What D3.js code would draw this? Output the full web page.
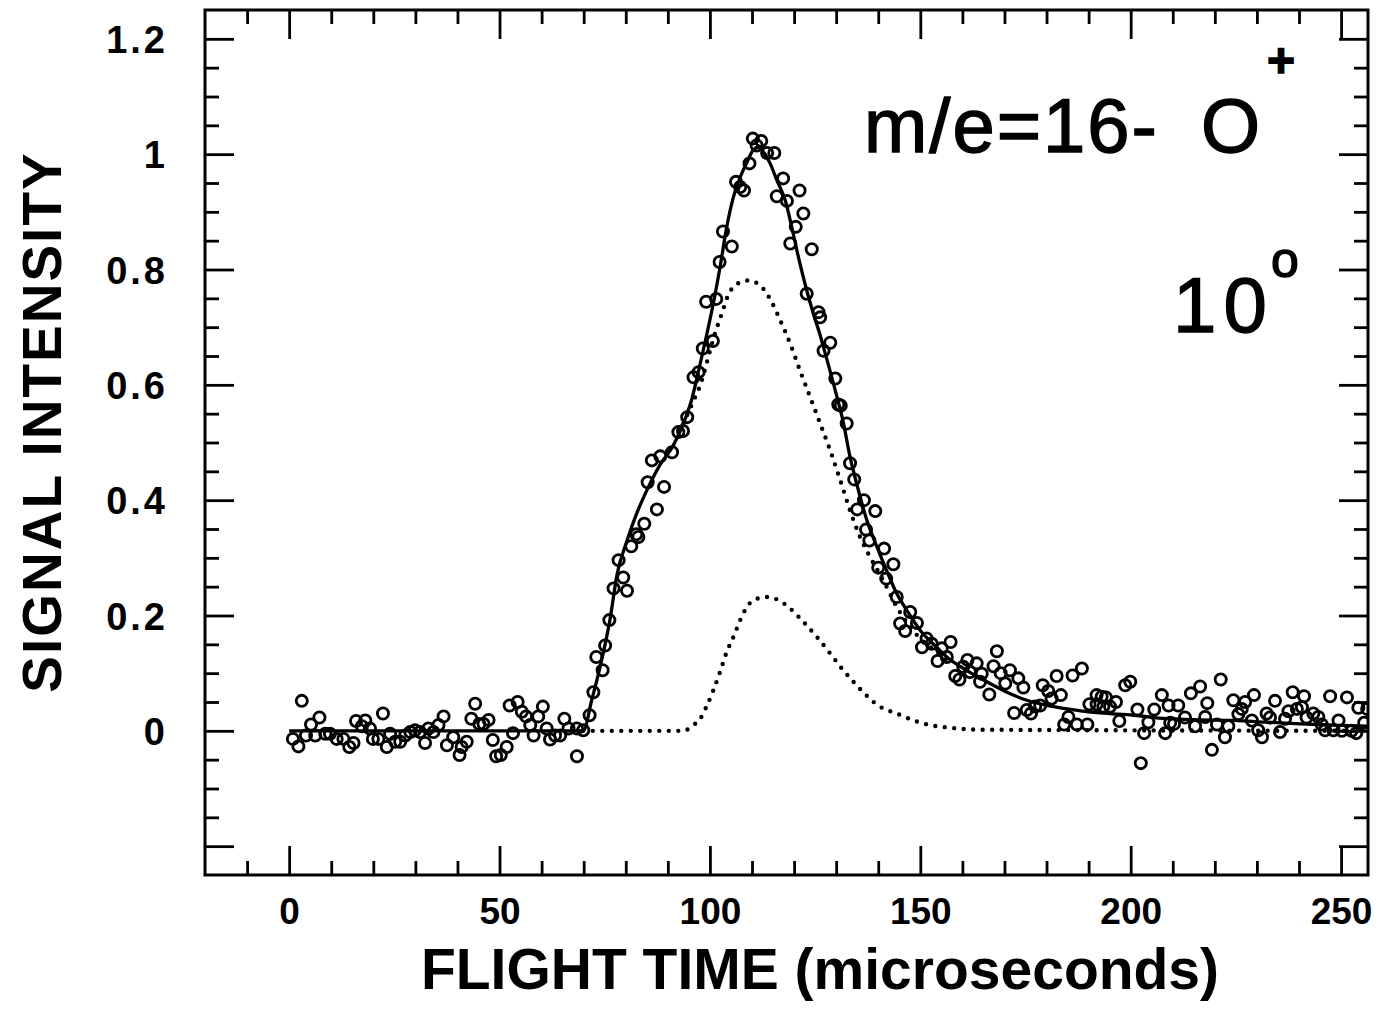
<!DOCTYPE html>
<html>
<head>
<meta charset="utf-8">
<script src="https://cdn.jsdelivr.net/npm/d3@7"></script>
<style>
  html, body { margin: 0; padding: 0; background: #fff; }
  text { font-family: "Liberation Sans", Arial, Helvetica, sans-serif; fill: #000; }
</style>
</head>
<body>
<svg id="chart" width="1400" height="1021"></svg>
<script>
// Measured signal (open circles): flight time in microseconds, normalised intensity
const pointTime = [
  0.9, 2.2, 3.0, 4.0, 5.2, 6.2, 7.2, 8.6, 9.7, 11.3, 12.9, 14.3, 15.3, 15.9, 17.3, 18.1, 19.2, 19.9,
  21.2, 22.3, 23.2, 24.0, 25.2, 26.4, 27.6, 28.8, 29.9, 31.1, 32.3, 33.1, 34.3, 35.5, 36.7, 37.5,
  39.0, 40.5, 41.0, 42.2, 43.3, 44.2, 45.2, 46.2, 47.4, 48.4, 49.2, 50.3, 51.7, 52.4, 53.2, 54.3,
  55.3, 56.3, 57.3, 58.1, 59.2, 60.3, 61.2, 62.0, 63.2, 64.4, 65.4, 66.4, 68.4, 68.4, 69.9, 71.4,
  72.3, 73.0, 74.5, 75.1,
  76.1, 77.1, 78.3, 79.4, 80.3, 81.3, 82.5, 83.0, 84.4, 85.2, 86.2, 87.4, 88.2, 89.1, 91.0, 92.5,
  93.6, 94.6,
  96.1, 97.3, 98.3, 100.7, 99.1, 101.5, 102.3, 103.1, 105.2, 106.2, 107.2, 108.1, 109.4, 110.2,
  111.1, 112.2, 113.6, 115.3, 115.9, 117.4, 118.3, 119.1, 120.4, 121.3, 122.2,
  123.0, 124.2, 125.8, 126.2, 127.0, 128.6, 129.8, 130.5, 131.1, 132.5, 133.3, 134.3, 135.0, 136.6,
  137.1, 137.9, 139.3, 140.0, 141.4, 141.9,
  143.6, 144.4, 145.2, 146.4, 147.6, 149.2, 150.4, 151.5, 152.7, 154.1, 155.1, 156.3, 157.2, 158.3,
  159.3, 160.2, 161.2, 161.8, 163.4, 164.2, 164.6, 166.4, 167.4, 168.2,
  169.1, 170.2, 171.3, 172.3, 173.3, 174.5, 175.3, 176.3, 177.3, 178.5, 179.1, 180.4, 181.2, 182.4,
  183.4, 184.2, 185.2, 186.2, 187.2, 188.4, 189.7, 190.2, 191.9, 191.9, 193.1, 193.5, 194.1, 195.1,
  196.5, 197.3, 198.7, 199.9, 201.6, 202.4, 203.2, 204.2, 205.6, 207.4, 208.2, 209.0, 209.4, 210.3,
  211.3, 212.9, 214.3, 215.3, 216.5, 217.7, 218.2, 219.3, 220.5, 221.4, 222.4, 223.2, 224.4, 225.6,
  226.4, 227.2, 228.8, 229.3, 230.3, 231.2, 232.3, 233.1, 234.3, 235.5, 236.7, 237.5, 238.5, 239.5,
  240.7, 241.2, 241.8, 243.4, 244.6, 245.4, 246.2, 247.4, 248.2, 249.4, 250.2, 251.4, 252.5, 253.6,
  254.1, 255.5, 256.2
];
const pointSignal = [
  -0.014, -0.027, 0.052, -0.008, 0.011, -0.008, 0.023, -0.005, -0.005, -0.014, -0.014, -0.028, -0.021, 0.017, 0.008, 0.018, 0.004, -0.014,
  -0.014, 0.030, -0.028, -0.005, -0.019, -0.019, -0.008, -0.002, 0.001, -0.002, -0.021, 0.004, -0.002, 0.010, 0.025, -0.025,
  -0.011, -0.042, -0.028, -0.019, 0.021, 0.047, 0.012, 0.012, 0.019, -0.016, -0.044, -0.042, -0.028, 0.044, -0.004, 0.050,
  0.033, 0.025, 0.010, -0.008, 0.025, 0.042, 0.004, -0.015, -0.008, -0.008, 0.021, 0.004, -0.044, 0.004, 0.001, 0.027,
  0.067, 0.128, 0.105, 0.148,
  0.192, 0.247, 0.296, 0.266, 0.243, 0.320, 0.341, 0.336, 0.359, 0.431, 0.469, 0.384, 0.476, 0.423, 0.483, 0.518,
  0.520, 0.544,
  0.613, 0.622, 0.663, 0.676, 0.744, 0.749, 0.813, 0.866, 0.840, 0.952, 0.943, 0.937, 0.984, 1.027,
  1.015, 1.023, 1.002, 1.002, 0.927, 0.958, 0.919, 0.845, 0.874, 0.937, 0.897,
  0.758, 0.835, 0.726, 0.717, 0.659, 0.673, 0.611, 0.566, 0.564, 0.533, 0.464, 0.436, 0.384, 0.400,
  0.349, 0.330, 0.381, 0.283, 0.316, 0.264,
  0.289, 0.232, 0.186, 0.173, 0.206, 0.187, 0.145, 0.160, 0.151, 0.121, 0.143, 0.128, 0.154, 0.095,
  0.089, 0.111, 0.123, 0.102, 0.117, 0.085, 0.099, 0.063, 0.112, 0.138,
  0.100, 0.082, 0.105, 0.031, 0.091, 0.075, 0.036, 0.030, 0.042, 0.044, 0.079, 0.069, 0.056, 0.095,
  0.062, 0.011, 0.024, 0.096, 0.011, 0.108, 0.011, 0.046, 0.062, 0.046, 0.059, 0.042, 0.058, 0.042,
  0.050, 0.017, 0.079, 0.085, 0.037, -0.056, -0.004, 0.015, 0.037, 0.062, -0.004, 0.044, 0.014, 0.012,
  0.044, 0.023, 0.065, 0.008, 0.077, 0.024, 0.048, -0.033, 0.011, 0.089, -0.011, 0.008, 0.053, 0.029,
  0.038, 0.050, 0.018, 0.062, 0.001, -0.011, 0.030, 0.023, 0.052, -0.002, 0.021, 0.034, 0.067, 0.038,
  0.041, 0.060, 0.023, 0.030, 0.024, 0.011, 0.001, 0.060, 0.001, 0.018, 0.000, 0.058, 0.000, -0.004,
  0.040, 0.014, 0.038
];

// Total fitted distribution (solid line)
const fitTime = [
  0, 69.9, 71.9, 73.9, 76.3, 77.9, 80.3, 82.6, 85.0, 88.2, 91.3, 93.7, 95.7, 97.7, 99.3, 100.8,
  102.4, 104.0, 105.6, 107.2, 108.8, 110.3, 111.5, 112.7, 114.3, 115.9, 117.9, 119.8, 121.4, 123.0,
  124.6, 126.2, 127.0, 129.8, 131.7, 133.3, 134.9, 137.3, 139.7, 142.0, 144.4, 146.8, 150.0, 153.9,
  156.3, 161.0, 165.8, 170.6, 175.3, 180.1, 184.8, 192.7, 200.6, 208.6, 216.5, 224.4, 232.3, 240.3,
  248.2, 256.4
];
const fitSignal = [
  0, 0, 0.053, 0.111, 0.195, 0.270, 0.330, 0.377, 0.417, 0.462, 0.495, 0.533, 0.575, 0.637, 0.689, 0.741,
  0.804, 0.874, 0.926, 0.960, 0.986, 1.007, 1.012, 1.004, 0.984, 0.955, 0.920, 0.862, 0.810, 0.764,
  0.723, 0.686, 0.665, 0.590, 0.535, 0.475, 0.428, 0.365, 0.319, 0.278, 0.238, 0.209, 0.174, 0.145,
  0.128, 0.105, 0.085, 0.067, 0.053, 0.044, 0.038, 0.031, 0.027, 0.021, 0.019, 0.018, 0.015, 0.012,
  0.010, 0.008
];

// Fast component of the fit (upper dotted curve, visible part)
const fastTime = [
  93.7, 95.7, 98.1, 99.6, 101.2, 102.8, 104.3, 106.7, 109.1, 111.5, 114.3, 116.7, 119.1, 121.4,
  123.8, 126.2, 128.6, 131.0, 133.3, 135.7, 138.1, 141.2, 144.4, 147.6, 150.0, 153.9, 156.3
];
const fastSignal = [
  0.533, 0.566, 0.608, 0.648, 0.689, 0.723, 0.755, 0.776, 0.781, 0.775, 0.749, 0.712, 0.671, 0.625,
  0.579, 0.533, 0.486, 0.434, 0.382, 0.336, 0.301, 0.261, 0.215, 0.180, 0.160, 0.137, 0.122
];

// Slow component of the fit (lower dotted curve)
const slowTime = [
  69.9, 93.6, 96.1, 97.7, 99.3, 100.8, 102.4, 104.0, 105.6, 107.2, 108.8, 111.1, 113.5, 115.9,
  119.1, 122.2, 125.4, 128.6, 131.7, 134.5, 140.4, 144.4, 148.4, 152.3, 156.3, 164.2, 256.4
];
const slowSignal = [
  0, 0, 0.010, 0.021, 0.044, 0.070, 0.102, 0.137, 0.163, 0.192, 0.215, 0.229, 0.232, 0.228,
  0.212, 0.189, 0.163, 0.134, 0.105, 0.082, 0.042, 0.030, 0.018, 0.010, 0.006, 0.002, 0
];

// Axis ticks
const xMajorTicks = [0, 50, 100, 150, 200, 250];
const xMinorTicks = [-10, 10, 20, 30, 40, 60, 70, 80, 90, 110, 120, 130, 140, 160, 170, 180, 190, 210, 220, 230, 240];
const yMajorTicks = [-0.2, 0, 0.2, 0.4, 0.6, 0.8, 1.0, 1.2];
const yTickLabels = ["", "0", "0.2", "0.4", "0.6", "0.8", "1", "1.2"];
const yMinorTicks = [-0.15, -0.1, -0.05, 0.05, 0.1, 0.15, 0.25, 0.3, 0.35, 0.45, 0.5, 0.55,
                     0.65, 0.7, 0.75, 0.85, 0.9, 0.95, 1.05, 1.1, 1.15];

const frame = { left: 205, right: 1368, top: 10, bottom: 875 };
const svg = d3.select("#chart");

const x = d3.scaleLinear().domain([-20, 256.4]).range([frame.left, frame.right]);
const y = d3.scaleLinear().domain([-0.25, 1.25]).range([frame.bottom, frame.top]);

svg.append("rect").attr("width", 1400).attr("height", 1021).attr("fill", "#fff");

svg.append("defs").append("clipPath").attr("id", "plot-area")
  .append("rect")
  .attr("x", frame.left).attr("y", frame.top)
  .attr("width", frame.right - frame.left).attr("height", frame.bottom - frame.top);

// Inward-pointing ticks on all four sides
const MAJOR = 29, MINOR = 14;
function tickAxis(gen, values, size, transform) {
  const g = svg.append("g").attr("transform", transform)
    .call(gen.tickValues(values).tickSizeInner(-size).tickSizeOuter(0).tickFormat(""));
  g.select(".domain").remove();
  g.selectAll(".tick line").attr("stroke", "#000").attr("stroke-width", 2.8);
  g.selectAll(".tick text").remove();
  return g;
}
tickAxis(d3.axisBottom(x), xMajorTicks, MAJOR, `translate(0,${frame.bottom})`);
tickAxis(d3.axisBottom(x), xMinorTicks, MINOR, `translate(0,${frame.bottom})`);
tickAxis(d3.axisTop(x), xMajorTicks, MAJOR, `translate(0,${frame.top})`);
tickAxis(d3.axisTop(x), xMinorTicks, MINOR, `translate(0,${frame.top})`);
tickAxis(d3.axisLeft(y), yMajorTicks, MAJOR, `translate(${frame.left},0)`);
tickAxis(d3.axisLeft(y), yMinorTicks, MINOR, `translate(${frame.left},0)`);
tickAxis(d3.axisRight(y), yMajorTicks, MAJOR, `translate(${frame.right},0)`);
tickAxis(d3.axisRight(y), yMinorTicks, MINOR, `translate(${frame.right},0)`);

// Tick labels
const xLabels = svg.append("g")
  .attr("transform", `translate(0,${frame.bottom})`)
  .call(d3.axisBottom(x).tickValues(xMajorTicks).tickSize(0).tickPadding(23).tickFormat(d3.format("d")));
xLabels.select(".domain").remove();
xLabels.selectAll("text")
  .attr("font-family", null)
  .style("font-size", "37px").style("font-weight", "bold");

const yLabels = svg.append("g")
  .attr("transform", `translate(${frame.left},0)`)
  .call(d3.axisLeft(y).tickValues(yMajorTicks).tickSize(0).tickPadding(37)
    .tickFormat((d, i) => yTickLabels[i]));
yLabels.select(".domain").remove();
yLabels.selectAll("text")
  .attr("font-family", null)
  .attr("dy", "0.36em")
  .style("font-size", "38px").style("font-weight", "bold").style("letter-spacing", "3px");

// Frame
svg.append("rect")
  .attr("x", frame.left).attr("y", frame.top)
  .attr("width", frame.right - frame.left).attr("height", frame.bottom - frame.top)
  .attr("fill", "none").attr("stroke", "#000").attr("stroke-width", 3);

// Curves and points
const plot = svg.append("g").attr("clip-path", "url(#plot-area)");
const line = d3.line().x(d => x(d[0])).y(d => y(d[1])).curve(d3.curveMonotoneX);

plot.append("path")
  .datum(d3.zip(slowTime, slowSignal))
  .attr("d", line)
  .attr("fill", "none").attr("stroke", "#000").attr("stroke-width", 4.4)
  .attr("stroke-linecap", "round").attr("stroke-dasharray", "0 9.5");

plot.append("path")
  .datum(d3.zip(fastTime, fastSignal))
  .attr("d", line)
  .attr("fill", "none").attr("stroke", "#000").attr("stroke-width", 4.4)
  .attr("stroke-linecap", "round").attr("stroke-dasharray", "0 9.5");

plot.append("path")
  .datum(d3.zip(fitTime, fitSignal))
  .attr("d", line)
  .attr("fill", "none").attr("stroke", "#000").attr("stroke-width", 3.3);

plot.append("g").selectAll("circle")
  .data(d3.zip(pointTime, pointSignal))
  .join("circle")
  .attr("cx", d => x(d[0])).attr("cy", d => y(d[1]))
  .attr("r", 5.6)
  .attr("fill", "none").attr("stroke", "#000").attr("stroke-width", 2.8);

// Axis titles
svg.append("text")
  .attr("x", 820).attr("y", 989)
  .attr("text-anchor", "middle")
  .style("font-size", "57px").style("font-weight", "bold")
  .text("FLIGHT TIME (microseconds)");

svg.append("text")
  .attr("transform", "translate(61,422) rotate(-90)")
  .attr("text-anchor", "middle")
  .style("font-size", "55px").style("font-weight", "bold").style("letter-spacing", "2px")
  .text("SIGNAL INTENSITY");

// Annotations
const note = svg.append("g").attr("stroke", "#000").attr("stroke-width", 1.4);
note.append("text")
  .attr("x", 864).attr("y", 152)
  .style("font-size", "76px").style("letter-spacing", "2px")
  .text("m/e=16-");
note.append("text")
  .attr("x", 1201).attr("y", 152)
  .style("font-size", "76px")
  .text("O");
note.append("text")
  .attr("x", 1281).attr("y", 77)
  .attr("text-anchor", "middle")
  .style("font-size", "48px").style("font-weight", "bold")
  .text("+");
note.append("text")
  .attr("x", 1173).attr("y", 332)
  .style("font-size", "78px").style("letter-spacing", "7px")
  .text("10");
note.append("text")
  .attr("x", 1285).attr("y", 277)
  .attr("text-anchor", "middle")
  .style("font-size", "50px")
  .text("o");
</script>
</body>
</html>
